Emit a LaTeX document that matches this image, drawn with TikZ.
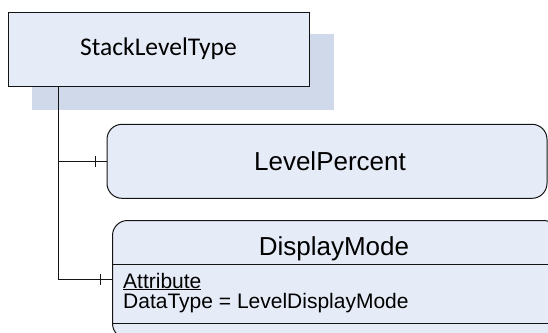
\documentclass[tikz,border=0pt]{standalone}
\usepackage{fontspec}
\setmainfont{Liberation Sans}
\newfontfamily\calibrilike{Carlito}
\definecolor{boxfill}{RGB}{230,236,247}
\definecolor{shadowfill}{RGB}{207,217,234}
\definecolor{edge}{RGB}{20,20,20}
\tikzset{
  line/.style={draw=edge, line width=1pt},
  typebox/.style={rectangle, draw=edge, line width=1pt, fill=boxfill, inner sep=0pt},
  elembox/.style={rectangle, rounded corners=15pt, draw=edge, line width=1pt, fill=boxfill, inner sep=0pt},
  label/.style={inner sep=0pt, anchor=base},
  attr/.style={inner sep=0pt, anchor=base west, font=\fontsize{21}{25}\selectfont}
}
\begin{document}
\begin{tikzpicture}[x=1pt,y=-1pt]
  \useasboundingbox (0,0) rectangle (548,332);
  \begin{scope}
    \clip (0,0) rectangle (548,332);

    % shadow behind the type box
    \fill[shadowfill] (32,33.5) rectangle (334,110);

    % type box
    \node[typebox, minimum width=301pt, minimum height=74pt] (slt) at (158.5,49)
      {\calibrilike\fontsize{25.5}{30}\selectfont StackLevelType};

    % child elements
    \node[elembox, minimum width=440pt, minimum height=74pt] (lp) at (327,161.3) {};
    \node[label, font=\fontsize{26}{30}\selectfont] (lpt) at (330,170.5) {LevelPercent};

    \node[elembox, minimum width=446pt, minimum height=118pt, anchor=north west] (dm) at (112,220) {};
    \node[label, font=\fontsize{26}{30}\selectfont] (dmt) at (334,255) {DisplayMode};
    \draw[line] ([yshift=-44.3pt]dm.north west) -- ([yshift=-44.3pt]dm.north east);
    \draw[line] ([yshift=-103.3pt]dm.north west) -- ([yshift=-103.3pt]dm.north east);
    \node[attr] (attrname) at (123,288) {\underline{Attribute}};
    \node[attr] (attrtype) at (123,308) {DataType = LevelDisplayMode};

    % connectors
    \coordinate (trunk) at ([xshift=50.7pt]slt.south west);
    \draw[line] (trunk) |- (dm.west);
    \draw[line] (trunk |- lp.west) -- (lp.west);
    \draw[line] ([xshift=-11pt,yshift=5.5pt]lp.west) -- ([xshift=-11pt,yshift=-5.5pt]lp.west);
    \draw[line] ([xshift=-12pt,yshift=5.5pt]dm.west) -- ([xshift=-12pt,yshift=-5.5pt]dm.west);
  \end{scope}
\end{tikzpicture}
\end{document}
